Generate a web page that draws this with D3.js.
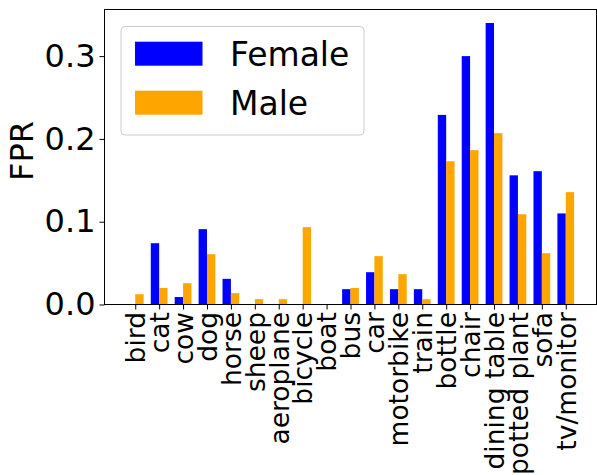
<!DOCTYPE html>
<html>
<head>
<meta charset="utf-8">
<script src="https://cdn.jsdelivr.net/npm/d3@7/dist/d3.min.js"></script>
<style>
  html, body { margin: 0; padding: 0; background: #fff; }
  svg { display: block; font-family: "DejaVu Sans", sans-serif; }
</style>
</head>
<body>
<svg id="chart" width="597" height="475"></svg>
<script>
const categories = ["bird", "cat", "cow", "dog", "horse", "sheep", "aeroplane", "bicycle", "boat", "bus", "car", "motorbike", "train", "bottle", "chair", "dining table", "potted plant", "sofa", "tv/monitor"];
const female = [0.0, 0.074, 0.009, 0.091, 0.031, 0.0, 0.0, 0.0, 0.0, 0.0185, 0.039, 0.0185, 0.0185, 0.229, 0.300, 0.340, 0.156, 0.161, 0.110];
const male = [0.0124, 0.020, 0.0257, 0.0607, 0.0137, 0.0064, 0.0064, 0.0934, 0.0, 0.020, 0.0584, 0.0366, 0.0064, 0.173, 0.1864, 0.207, 0.109, 0.062, 0.1357];
const yTicks = [0.0, 0.1, 0.2, 0.3];
const seriesNames = ["Female", "Male"];
const seriesColors = ["#0000ff", "#ffa500"];
const barWidth = 0.35;

const svg = d3.select("#chart");
const mLeft = 104.5, mRight = 596.5, mTop = 9.5, mBottom = 304.5;

const x = d3.scaleLinear().domain([-1.285, 19.285]).range([mLeft, mRight]);
const y = d3.scaleLinear().domain([0, 0.3563]).range([mBottom, mTop]);

// bars
const series = [female, male];
series.forEach((vals, s) => {
  svg.append("g").selectAll("rect").data(vals).join("rect")
    .attr("x", (d, i) => x(i - barWidth + s * barWidth))
    .attr("width", x(barWidth) - x(0))
    .attr("y", d => y(d))
    .attr("height", d => y(0) - y(d))
    .attr("fill", seriesColors[s]);
});

// axes
const yAxis = d3.axisLeft(y).tickValues(yTicks).tickFormat(d3.format(".1f")).tickSize(5).tickPadding(4);
const gy = svg.append("g").attr("transform", `translate(${mLeft},0)`).call(yAxis);
gy.select(".domain").remove();
gy.selectAll("text").attr("font-size", 32).attr("font-family", "DejaVu Sans").attr("fill", "#000");
gy.selectAll("line").attr("stroke", "#000");

const xAxis = d3.axisBottom(x).tickValues(d3.range(categories.length)).tickFormat(i => categories[i]).tickSize(5);
const gx = svg.append("g").attr("transform", `translate(0,${mBottom})`).call(xAxis);
gx.select(".domain").remove();
gx.selectAll("line").attr("stroke", "#000");
gx.selectAll("text")
  .attr("font-size", 26.5).attr("font-family", "DejaVu Sans").attr("fill", "#000")
  .attr("transform", "rotate(-90)")
  .attr("text-anchor", "end")
  .attr("x", -7.5).attr("y", 0).attr("dy", "0.35em");

// frame
svg.append("rect").attr("x", mLeft).attr("y", mTop).attr("width", mRight - mLeft).attr("height", mBottom - mTop)
  .attr("fill", "none").attr("stroke", "#000").attr("stroke-width", 1);

// y label
svg.append("text").attr("transform", "translate(33,151) rotate(-90)")
  .attr("text-anchor", "middle").attr("font-size", 32).attr("fill", "#000").text("FPR");

// legend
const lg = svg.append("g");
lg.append("rect").attr("x", 121).attr("y", 26.5).attr("width", 243).attr("height", 108.5)
  .attr("rx", 4).attr("fill", "#fff").attr("fill-opacity", 0.8).attr("stroke", "#cccccc");
seriesNames.forEach((name, s) => {
  lg.append("rect").attr("x", 135).attr("y", 41.7 + s * 49).attr("width", 67.5).attr("height", 24)
    .attr("fill", seriesColors[s]);
  lg.append("text").attr("x", 230).attr("y", 65.8 + s * 49).attr("font-size", 33).attr("fill", "#000").text(name);
});
</script>
</body>
</html>
